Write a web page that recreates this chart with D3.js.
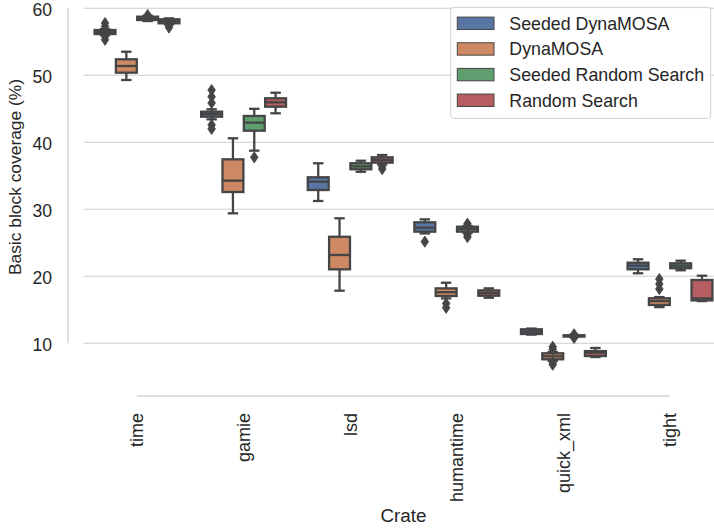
<!DOCTYPE html>
<html>
<head>
<meta charset="utf-8">
<script src="https://cdn.jsdelivr.net/npm/d3@7"></script>
<style>
  html, body { margin: 0; padding: 0; background: #fff; }
  svg { display: block; font-family: "Liberation Sans", Arial, sans-serif; }
</style>
</head>
<body>
<svg id="chart" width="714" height="528"></svg>
<script>
// ---------------- data ----------------
const crates = ["time", "gamie", "lsd", "humantime", "quick_xml", "tight"];
const seriesNames = ["Seeded DynaMOSA", "DynaMOSA", "Seeded Random Search", "Random Search"];
const seriesColors = ["#5975a4", "#cc8963", "#5f9e6e", "#b55d60"];
const yTicks = [10, 20, 30, 40, 50, 60];

// box statistics per series, one entry per crate (same order as crates)
// Seeded DynaMOSA
const sdWhiskerLow = [56.0, 43.43, 31.24, 26.4, 11.3, 20.45];
const sdQ1         = [56.16, 43.82, 32.88, 26.66, 11.39, 21.04];
const sdMedian     = [56.45, 44.2, 34.12, 27.26, 11.75, 21.58];
const sdQ3         = [56.76, 44.57, 34.78, 28.06, 12.09, 22.03];
const sdWhiskerHigh= [56.9, 44.93, 36.87, 28.5, 12.2, 22.54];
const sdFliers     = [[57.8, 57.3, 55.8, 55.3], [47.8, 46.8, 45.87, 42.6, 42.0], [], [25.17], [], []];
// DynaMOSA
const dWhiskerLow  = [49.3, 29.4, 17.85, 16.7, 7.4, 15.4];
const dQ1          = [50.39, 32.58, 21.04, 17.06, 7.61, 15.72];
const dMedian      = [51.39, 34.27, 23.18, 17.63, 8.06, 16.3];
const dQ3          = [52.39, 37.46, 25.9, 18.2, 8.51, 16.72];
const dWhiskerHigh = [53.52, 40.6, 28.66, 19.04, 8.7, 16.9];
const dFliers      = [[], [], [], [15.94, 15.3], [9.5, 9.1, 7.1, 6.8], [19.6, 18.85, 18.1]];
// Seeded Random Search
const srsWhiskerLow  = [58.1, 38.75, 35.6, 26.5, 10.95, 20.9];
const srsQ1          = [58.25, 41.73, 35.97, 26.66, 11.0, 21.2];
const srsMedian      = [58.5, 42.93, 36.4, 27.05, 11.1, 21.58];
const srsQ3          = [58.75, 43.93, 36.87, 27.4, 11.2, 21.94];
const srsWhiskerHigh = [58.9, 45.0, 37.25, 27.5, 11.25, 22.33];
const srsFliers      = [[59.0], [37.76], [], [27.85, 27.6, 26.2, 25.85], [11.35, 10.8], []];
// Random Search
const rsWhiskerLow  = [57.6, 44.33, 36.7, 16.8, 7.95, 16.3];
const rsQ1          = [57.76, 45.31, 36.96, 17.1, 8.1, 16.4];
const rsMedian      = [58.06, 45.97, 37.35, 17.5, 8.6, 16.7];
const rsQ3          = [58.36, 46.57, 37.76, 17.9, 8.84, 19.45];
const rsWhiskerHigh = [58.5, 47.4, 38.1, 18.2, 9.3, 20.09];
const rsFliers      = [[57.4, 57.13], [], [36.4, 36.0], [], [], []];

const stats = [
  {lo: sdWhiskerLow, q1: sdQ1, med: sdMedian, q3: sdQ3, hi: sdWhiskerHigh, fl: sdFliers},
  {lo: dWhiskerLow, q1: dQ1, med: dMedian, q3: dQ3, hi: dWhiskerHigh, fl: dFliers},
  {lo: srsWhiskerLow, q1: srsQ1, med: srsMedian, q3: srsQ3, hi: srsWhiskerHigh, fl: srsFliers},
  {lo: rsWhiskerLow, q1: rsQ1, med: rsMedian, q3: rsQ3, hi: rsWhiskerHigh, fl: rsFliers}
];

// ---------------- layout ----------------
const svg = d3.select("#chart");
const gray = "#454545";
const textColor = "#262626";
const gridColor = "#cccccc";
const lw = 2.3;

const x = d3.scaleBand().domain(crates).range([83.7, 723.3]).padding(0);
const hue = d3.scaleBand().domain(seriesNames)
  .range([-0.4 * x.bandwidth(), 0.4 * x.bandwidth()]).padding(0);
const y = d3.scaleLinear().domain([10, 60]).range([343.3, 8.3]);
const boxW = hue.bandwidth() * 0.98;
const cx = (c) => x(c) + x.bandwidth() / 2;

// grid lines
svg.append("g").selectAll("line").data(yTicks).join("line")
  .attr("x1", 83.7).attr("x2", 714)
  .attr("y1", d => y(d)).attr("y2", d => y(d))
  .attr("stroke", gridColor).attr("stroke-width", 1.1);

// y axis (trimmed, offset spine)
const yAxis = svg.append("g").attr("transform", "translate(68,0)")
  .call(d3.axisLeft(y).tickValues(yTicks).tickSize(0).tickPadding(16).tickFormat(d3.format("d")));
yAxis.select(".domain").remove();
yAxis.selectAll("text").attr("fill", textColor).style("font-size", "17.6px")
  .style("font-family", "Liberation Sans, Arial, sans-serif")
  .attr("dy", "0.42em");
svg.append("line").attr("x1", 68).attr("x2", 68)
  .attr("y1", y(60)).attr("y2", y(10)).attr("stroke", gridColor).attr("stroke-width", 1.25);

// x axis (trimmed, offset spine)
const xAxisY = 396;
const xAxis = svg.append("g").attr("transform", `translate(0,${xAxisY})`)
  .call(d3.axisBottom(x).tickSize(0).tickPadding(0));
xAxis.select(".domain").remove();
xAxis.selectAll("text")
  .attr("fill", textColor).style("font-size", "18px")
  .style("font-family", "Liberation Sans, Arial, sans-serif")
  .attr("transform", "rotate(-90)")
  .attr("text-anchor", "end")
  .attr("dy", "0.35em")
  .attr("x", -17).attr("y", 0);
svg.append("line").attr("x1", cx(crates[0])).attr("x2", cx(crates[crates.length - 1]))
  .attr("y1", xAxisY).attr("y2", xAxisY).attr("stroke", gridColor).attr("stroke-width", 1.25);

// axis labels
svg.append("text").attr("transform", "translate(21,177) rotate(-90)")
  .attr("text-anchor", "middle").attr("fill", textColor).style("font-size", "17.4px")
  .text("Basic block coverage (%)");
svg.append("text").attr("x", (cx(crates[0]) + cx(crates[5])) / 2).attr("y", 522)
  .attr("text-anchor", "middle").attr("fill", textColor).style("font-size", "18.8px")
  .text("Crate");

// boxes
const diamond = "M0,-5.6L3.8,0L0,5.6L-3.8,0Z";
seriesNames.forEach((s, si) => {
  const st = stats[si];
  const g = svg.append("g");
  crates.forEach((c, ci) => {
    const xc = cx(c) + hue(s) + hue.bandwidth() / 2;
    const bg = g.append("g");
    // whiskers
    bg.append("line").attr("x1", xc).attr("x2", xc)
      .attr("y1", y(st.hi[ci])).attr("y2", y(st.q3[ci]))
      .attr("stroke", gray).attr("stroke-width", lw);
    bg.append("line").attr("x1", xc).attr("x2", xc)
      .attr("y1", y(st.q1[ci])).attr("y2", y(st.lo[ci]))
      .attr("stroke", gray).attr("stroke-width", lw);
    // caps
    [st.hi[ci], st.lo[ci]].forEach(v => {
      bg.append("line").attr("x1", xc - boxW / 4).attr("x2", xc + boxW / 4)
        .attr("y1", y(v)).attr("y2", y(v))
        .attr("stroke", gray).attr("stroke-width", lw);
    });
    // box
    bg.append("rect").attr("x", xc - boxW / 2).attr("width", boxW)
      .attr("y", y(st.q3[ci])).attr("height", Math.max(0.5, y(st.q1[ci]) - y(st.q3[ci])))
      .attr("fill", seriesColors[si]).attr("stroke", gray).attr("stroke-width", lw);
    // median
    bg.append("line").attr("x1", xc - boxW / 2).attr("x2", xc + boxW / 2)
      .attr("y1", y(st.med[ci])).attr("y2", y(st.med[ci]))
      .attr("stroke", gray).attr("stroke-width", lw);
    // fliers
    bg.selectAll("path.flier").data(st.fl[ci]).join("path")
      .attr("class", "flier").attr("d", diamond)
      .attr("transform", d => `translate(${xc},${y(d)})`)
      .attr("fill", gray).attr("stroke", gray).attr("stroke-width", 0.8);
  });
});

// legend
const lg = svg.append("g");
lg.append("rect").attr("x", 450.7).attr("y", 7.3).attr("width", 260).attr("height", 111)
  .attr("rx", 3).attr("fill", "#ffffff").attr("fill-opacity", 0.85)
  .attr("stroke", "#d0d0d0").attr("stroke-width", 1);
seriesNames.forEach((s, i) => {
  const cy = 23.3 + i * 25.65;
  lg.append("rect").attr("x", 457.3).attr("y", cy - 6.2).attr("width", 36.7).attr("height", 12.4)
    .attr("fill", seriesColors[i]).attr("stroke", gray).attr("stroke-width", 1);
  lg.append("text").attr("x", 509.3).attr("y", cy + 6.3)
    .attr("fill", textColor).style("font-size", "17.8px").text(s);
});
</script>
</body>
</html>
